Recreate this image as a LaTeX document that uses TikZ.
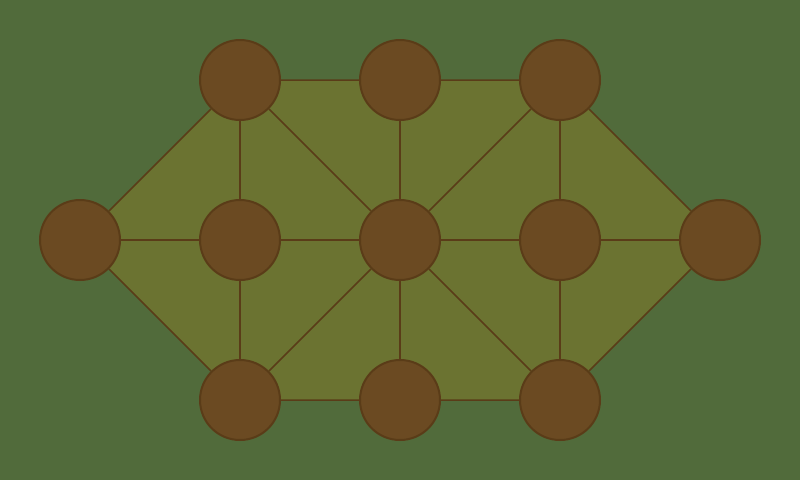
\documentclass[tikz,border=0pt]{standalone}
\usetikzlibrary{backgrounds}
\definecolor{bg}{HTML}{516B3B}
\definecolor{field}{HTML}{6B7331}
\definecolor{nodefill}{HTML}{6B4A22}
\definecolor{linec}{HTML}{5A3C18}
\begin{document}
\begin{tikzpicture}[x=1pt,y=-1pt,
  pt/.style={circle,draw=linec,fill=nodefill,line width=2pt,minimum size=80pt,inner sep=0pt},
  edge/.style={draw=linec,line width=1.5pt}]
\useasboundingbox (0,0) rectangle (800,480);
\node[pt] (a) at (80,240) {};
\node[pt] (b1) at (240,80) {}; \node[pt] (b2) at (400,80) {}; \node[pt] (b3) at (560,80) {};
\node[pt] (c1) at (240,240) {}; \node[pt] (c2) at (400,240) {}; \node[pt] (c3) at (560,240) {};
\node[pt] (e) at (720,240) {};
\node[pt] (d1) at (240,400) {}; \node[pt] (d2) at (400,400) {}; \node[pt] (d3) at (560,400) {};
\begin{scope}[on background layer]
\fill[bg] (0,0) rectangle (800,480);
\fill[field] (a.center)--(b1.center)--(b3.center)--(e.center)--(d3.center)--(d1.center)--cycle;
\end{scope}
\draw[edge] (a)--(b1) (b1)--(b2) (b2)--(b3) (b3)--(e) (e)--(d3) (d3)--(d2) (d2)--(d1) (d1)--(a);
\draw[edge] (a)--(c1) (c1)--(c2) (c2)--(c3) (c3)--(e);
\draw[edge] (b1)--(c1) (c1)--(d1);
\draw[edge] (b2)--(c2) (c2)--(d2);
\draw[edge] (b3)--(c3) (c3)--(d3);
\draw[edge] (b1)--(c2) (c2)--(d3);
\draw[edge] (b3)--(c2) (c2)--(d1);
\end{tikzpicture}
\end{document}
